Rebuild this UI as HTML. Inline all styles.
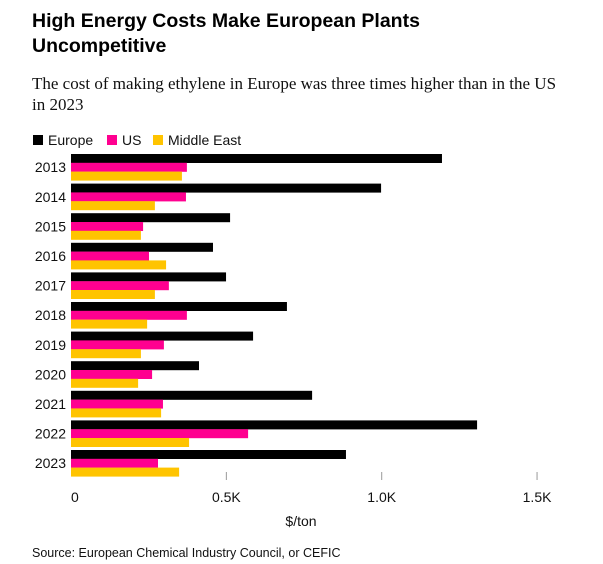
<!DOCTYPE html>
<html><head><meta charset="utf-8"><style>
body{margin:0;background:#fff;width:603px;height:564px;overflow:hidden}
svg{display:block}
text{font-family:"Liberation Sans",Arial,sans-serif}
</style></head><body>
<svg id="chart" width="603" height="564">
<text x="32" y="27" font-size="19.5" font-weight="bold" fill="#000">High Energy Costs Make European Plants</text>
<text x="32" y="52" font-size="19.5" font-weight="bold" fill="#000">Uncompetitive</text>
<text x="32" y="89" font-size="17" fill="#111" style="font-family:'Liberation Serif',serif">The cost of making ethylene in Europe was three times higher than in the US</text>
<text x="32" y="110" font-size="17" fill="#111" style="font-family:'Liberation Serif',serif">in 2023</text>
<g>
<rect x="33" y="135" width="10" height="10" fill="#000"/>
<text x="48" y="145" font-size="14" fill="#111">Europe</text>
<rect x="107" y="135" width="10" height="10" fill="#ff0090"/>
<text x="122" y="145" font-size="14" fill="#111">US</text>
<rect x="153" y="135" width="10" height="10" fill="#ffc400"/>
<text x="168" y="145" font-size="14" fill="#111">Middle East</text>
</g>
<g id="plot"></g>
<text x="301" y="526" font-size="14" fill="#111" text-anchor="middle">$/ton</text>
<text x="32" y="557" font-size="12.5" fill="#111">Source: European Chemical Industry Council, or CEFIC</text>
</svg>
<script>
const years=["2013","2014","2015","2016","2017","2018","2019","2020","2021","2022","2023"];
const europe=[1194,998,512,457,499,695,586,412,776,1307,885];
const us=[373,370,232,251,315,373,299,261,296,570,280];
const middleEast=[357,270,225,306,270,245,225,216,290,380,348];
const ticks=[0,500,1000,1500];
const tickLabels=["0","0.5K","1.0K","1.5K"];
const NS="http://www.w3.org/2000/svg";
const plot=document.getElementById('plot');
const x0=71,pxPer=0.3107;
function xs(v){return x0+v*pxPer;}
function ys(i){return 154+i*29.6;}
const bh=8.8;
const series=[[europe,"#000","europe"],[us,"#ff0090","us"],[middleEast,"#ffc400","middle-east"]];
years.forEach((yr,i)=>{
  const t=document.createElementNS(NS,'text');
  t.setAttribute('x',66);t.setAttribute('y',ys(i)+bh*1.5+5);
  t.setAttribute('font-size','14');t.setAttribute('text-anchor','end');t.setAttribute('fill','#111');
  
  
  t.textContent=yr;plot.appendChild(t);
  series.forEach((s,k)=>{
    const r=document.createElementNS(NS,'rect');
    r.setAttribute('x',xs(0));r.setAttribute('y',ys(i)+k*bh);
    r.setAttribute('width',xs(s[0][i])-xs(0));r.setAttribute('height',bh+0.2);
    r.setAttribute('fill',s[1]);
    
    
    plot.appendChild(r);
  });
});
ticks.forEach((v,j)=>{
  if(j>0){
    const l=document.createElementNS(NS,'line');
    l.setAttribute('x1',xs(v));l.setAttribute('x2',xs(v));l.setAttribute('y1',472);l.setAttribute('y2',480);
    l.setAttribute('stroke','#999');l.setAttribute('stroke-width','1');
    
    
    plot.appendChild(l);
  }
  const t=document.createElementNS(NS,'text');
  t.setAttribute('x',xs(v));t.setAttribute('y',502);t.setAttribute('font-size','14');
  t.setAttribute('text-anchor',j===0?'start':'middle');t.setAttribute('fill','#111');
  
  
  t.textContent=tickLabels[j];plot.appendChild(t);
});
</script>
</body></html>
